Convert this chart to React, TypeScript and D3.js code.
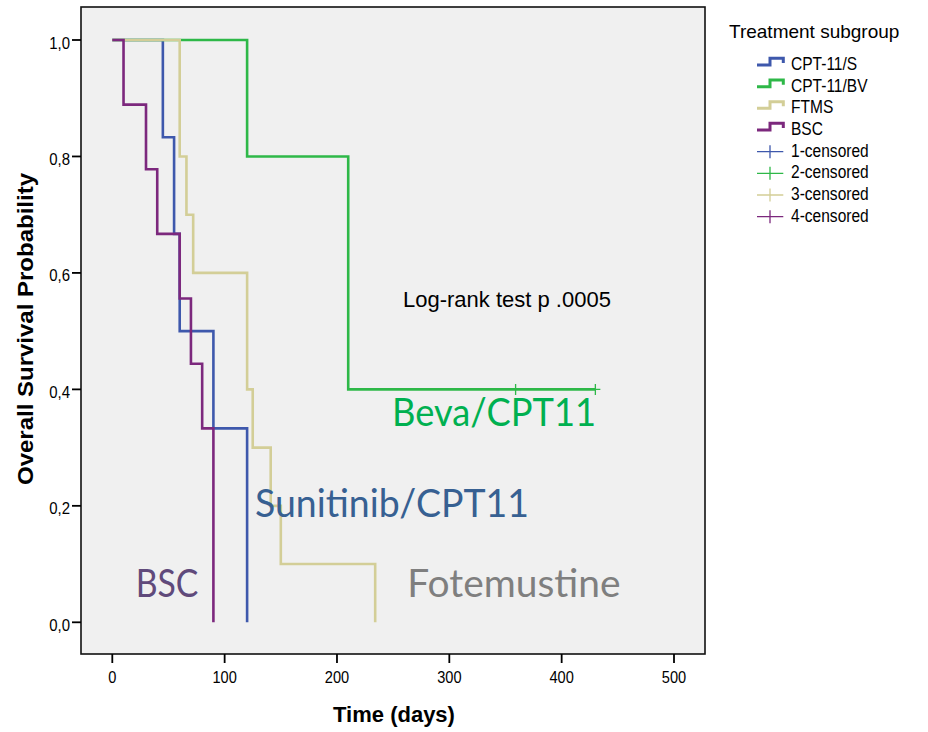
import { useEffect, useRef } from "react";
import * as d3 from "d3";

const groups = ["CPT-11/S", "CPT-11/BV", "FTMS", "BSC"];
const colors = ["#3E58AC", "#2EB848", "#D3CE97", "#7C287D"];

// survival steps (days, probability)
const sTimes = [0, 45, 55, 60, 90, 120];
const sSurv = [1, 0.833, 0.667, 0.5, 0.333, 0];
const bvTimes = [0, 120, 210, 430];
const bvSurv = [1, 0.8, 0.4, 0.4];
const ftmsTimes = [0, 60, 66, 72, 120, 125, 141, 150, 234];
const ftmsSurv = [1, 0.8, 0.7, 0.6, 0.4, 0.3, 0.2, 0.1, 0];
const bscTimes = [0, 10, 30, 40, 60, 70, 80, 90];
const bscSurv = [1, 0.889, 0.778, 0.667, 0.556, 0.444, 0.333, 0];

// censored cases (only in CPT-11/BV)
const bvCensored = [359, 430];
const bvCensoredSurv = [0.4, 0.4];

const xTicks = [0, 100, 200, 300, 400, 500];
const yTicks = [0, 0.2, 0.4, 0.6, 0.8, 1];
const censorNames = ["1-censored", "2-censored", "3-censored", "4-censored"];

const annotations = [
  { text: "Beva/CPT11", color: "#00B050" },
  { text: "Sunitinib/CPT11", color: "#376092" },
  { text: "BSC", color: "#604A7B" },
  { text: "Fotemustine", color: "#7F7F7F" },
];

export default function App() {
  const ref = useRef(null);

  useEffect(() => {
    const W = 928;
    const H = 732;
    const frame = { left: 81, right: 705, top: 7, bottom: 654 };

    const x = d3.scaleLinear().domain([0, 500]).range([112.3, 674]);
    const y = d3.scaleLinear().domain([0, 1]).range([622.3, 40]);

    const svg = d3
      .select(ref.current)
      .append("svg")
      .attr("width", W)
      .attr("height", H)
      .style("position", "absolute")
      .style("left", 0)
      .style("top", 0)
      .style("font-family", "'Liberation Sans', Arial, sans-serif");

    svg.append("rect").attr("width", W).attr("height", H).attr("fill", "#fff");

    // the source figure has tall, narrow small text: squeeze it horizontally
    function narrowText(g, tx, ty, sx, size, anchor, str) {
      g.append("text")
        .attr("transform", `translate(${tx},${ty}) scale(${sx},1)`)
        .attr("text-anchor", anchor)
        .attr("font-size", size)
        .text(str);
    }

    // plot area
    svg
      .append("rect")
      .attr("x", frame.left)
      .attr("y", frame.top)
      .attr("width", frame.right - frame.left)
      .attr("height", frame.bottom - frame.top)
      .attr("fill", "#F0F0F0")
      .attr("stroke", "#111")
      .attr("stroke-width", 1.6);

    // x axis ticks
    const xg = svg.append("g");
    xg.selectAll("line")
      .data(xTicks)
      .enter()
      .append("line")
      .attr("x1", (d) => x(d))
      .attr("x2", (d) => x(d))
      .attr("y1", frame.bottom)
      .attr("y2", frame.bottom + 9)
      .attr("stroke", "#000")
      .attr("stroke-width", 1.8);
    xTicks.forEach((d) => narrowText(xg, x(d), 682.5, 0.86, 17, "middle", d));

    // y axis ticks
    const yg = svg.append("g");
    yg.selectAll("line")
      .data(yTicks)
      .enter()
      .append("line")
      .attr("x1", frame.left - 9)
      .attr("x2", frame.left)
      .attr("y1", (d) => y(d))
      .attr("y2", (d) => y(d))
      .attr("stroke", "#000")
      .attr("stroke-width", 1.8);
    yTicks.forEach((d) =>
      narrowText(yg, 70, y(d) + 8.5, 0.88, 17, "end", d3.format(".1f")(d).replace(".", ","))
    );

    // axis titles
    svg
      .append("text")
      .attr("x", 394)
      .attr("y", 722)
      .attr("text-anchor", "middle")
      .attr("font-size", 22)
      .attr("font-weight", "bold")
      .text("Time (days)");
    svg
      .append("text")
      .attr("transform", "translate(33,329) rotate(-90)")
      .attr("text-anchor", "middle")
      .attr("font-size", 22)
      .attr("font-weight", "bold")
      .attr("textLength", 312)
      .attr("lengthAdjust", "spacingAndGlyphs")
      .text("Overall Survival Probability");

    // survival curves
    const series = [
      { times: sTimes, surv: sSurv },
      { times: bvTimes, surv: bvSurv },
      { times: ftmsTimes, surv: ftmsSurv },
      { times: bscTimes, surv: bscSurv },
    ];
    const line = d3
      .line()
      .x((d) => x(d[0]))
      .y((d) => y(d[1]))
      .curve(d3.curveStepAfter);

    series.forEach((s, i) => {
      const pts = s.times.map((t, j) => [t, s.surv[j]]);
      svg
        .append("path")
        .attr("d", line(pts))
        .attr("fill", "none")
        .attr("stroke", colors[i])
        .attr("stroke-width", 2.6)
        .attr("stroke-linejoin", "miter")
        .attr("stroke-linecap", "butt");
    });

    // censor marks
    bvCensored.forEach((t, j) => {
      const cx = x(t);
      const cy = y(bvCensoredSurv[j]);
      svg
        .append("path")
        .attr("d", `M${cx - 5},${cy}H${cx + 5}M${cx},${cy - 5.5}V${cy + 5.5}`)
        .attr("stroke", colors[1])
        .attr("stroke-width", 1.3)
        .attr("fill", "none");
    });

    // log-rank annotation
    svg
      .append("text")
      .attr("x", 403)
      .attr("y", 306.7)
      .attr("font-size", 22)
      .text("Log-rank test p .0005");

    // big group labels
    const annPos = [
      { x: 392, y: 426, w: 204 },
      { x: 255, y: 516.7, w: 274 },
      { x: 135.7, y: 596.7, w: 62.7 },
      { x: 407.3, y: 596.7, w: 213.3 },
    ];
    annotations.forEach((a, i) => {
      svg
        .append("text")
        .attr("x", annPos[i].x)
        .attr("y", annPos[i].y)
        .attr("font-family", "Lato, 'Open Sans', sans-serif")
        .attr("font-size", 38)
        .attr("fill", a.color)
        .attr("textLength", annPos[i].w)
        .attr("lengthAdjust", "spacingAndGlyphs")
        .text(a.text);
    });

    // legend
    const lg = svg.append("g");
    lg.append("text")
      .attr("x", 729)
      .attr("y", 38.3)
      .attr("font-size", 19)
      .text("Treatment subgroup");

    const rowY = (i: number) => 70 + i * 21.67;
    groups.forEach((g, i) => {
      const by = rowY(i);
      lg.append("path")
        .attr("d", `M757,${by - 5}H770V${by - 11.7}H783.3V${by - 7}`)
        .attr("fill", "none")
        .attr("stroke", colors[i])
        .attr("stroke-width", 3);
      narrowText(lg, 791, by, 0.84, 18.5, "start", g);
    });
    censorNames.forEach((g, i) => {
      const by = rowY(i + 4);
      lg.append("path")
        .attr("d", `M757,${by - 5}H783.3M770,${by - 11.5}V${by + 1.5}`)
        .attr("fill", "none")
        .attr("stroke", colors[i])
        .attr("stroke-width", 1.3);
      narrowText(lg, 791, by, 0.84, 18.5, "start", g);
    });

    return () => {
      d3.select(ref.current).selectAll("*").remove();
    };
  }, []);

  return <div ref={ref} />;
}
